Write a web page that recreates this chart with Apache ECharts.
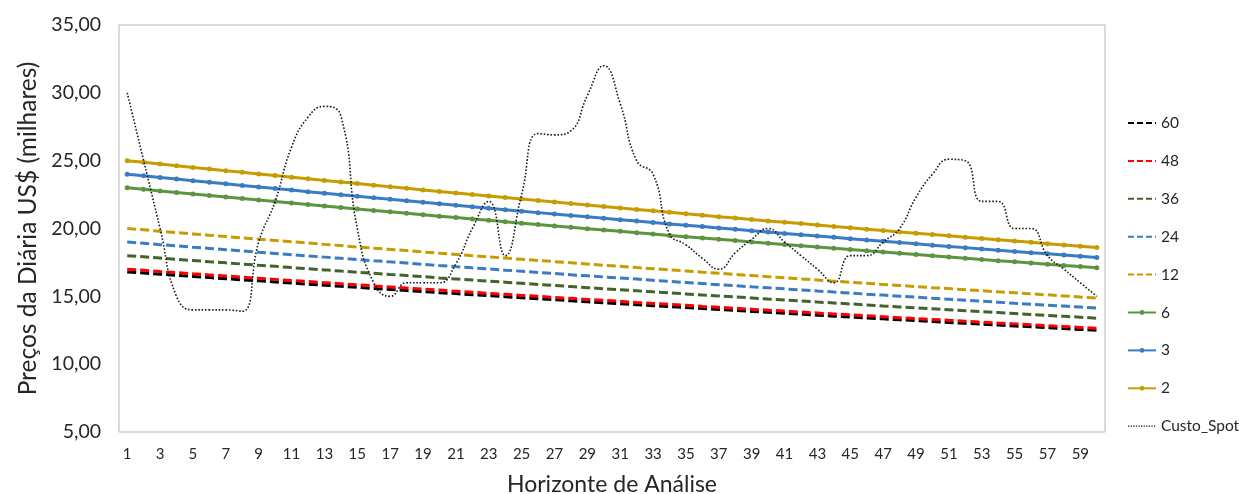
<!DOCTYPE html>
<html>
<head>
<meta charset="utf-8">
<script src="https://cdn.jsdelivr.net/npm/echarts@6/dist/echarts.min.js"></script>
<style>html,body{margin:0;padding:0;background:#fff}#c{width:1239px;height:494px}</style>
</head>
<body>
<div id="c"></div>
<script>
var categories = ['1','2','3','4','5','6','7','8','9','10','11','12','13','14','15','16','17','18','19','20','21','22','23','24','25','26','27','28','29','30','31','32','33','34','35','36','37','38','39','40','41','42','43','44','45','46','47','48','49','50','51','52','53','54','55','56','57','58','59','60'];

var s60 = [16.80,16.72,16.63,16.55,16.47,16.38,16.30,16.22,16.14,16.06,15.98,15.90,15.82,15.74,15.66,15.58,15.51,15.43,15.35,15.27,15.20,15.12,15.05,14.97,14.90,14.82,14.75,14.67,14.60,14.53,14.45,14.38,14.31,14.24,14.17,14.10,14.03,13.96,13.89,13.82,13.75,13.68,13.61,13.54,13.47,13.41,13.34,13.27,13.21,13.14,13.08,13.01,12.95,12.88,12.82,12.75,12.69,12.62,12.56,12.50];
var s48 = [17.00,16.92,16.83,16.75,16.66,16.58,16.50,16.41,16.33,16.25,16.17,16.09,16.01,15.93,15.85,15.77,15.69,15.61,15.53,15.46,15.38,15.30,15.22,15.15,15.07,15.00,14.92,14.85,14.77,14.70,14.63,14.55,14.48,14.41,14.34,14.26,14.19,14.12,14.05,13.98,13.91,13.84,13.77,13.70,13.64,13.57,13.50,13.43,13.36,13.30,13.23,13.17,13.10,13.03,12.97,12.90,12.84,12.78,12.71,12.65];
var s36 = [18.00,17.91,17.82,17.73,17.64,17.55,17.47,17.38,17.29,17.21,17.12,17.03,16.95,16.86,16.78,16.70,16.61,16.53,16.45,16.36,16.28,16.20,16.12,16.04,15.96,15.88,15.80,15.72,15.64,15.56,15.49,15.41,15.33,15.26,15.18,15.10,15.03,14.95,14.88,14.80,14.73,14.66,14.58,14.51,14.44,14.37,14.29,14.22,14.15,14.08,14.01,13.94,13.87,13.80,13.73,13.66,13.59,13.53,13.46,13.39];
var s24 = [19.00,18.91,18.81,18.72,18.62,18.53,18.44,18.35,18.25,18.16,18.07,17.98,17.89,17.80,17.71,17.62,17.54,17.45,17.36,17.27,17.19,17.10,17.02,16.93,16.85,16.76,16.68,16.59,16.51,16.43,16.35,16.27,16.18,16.10,16.02,15.94,15.86,15.78,15.70,15.63,15.55,15.47,15.39,15.32,15.24,15.16,15.09,15.01,14.94,14.86,14.79,14.71,14.64,14.57,14.49,14.42,14.35,14.28,14.21,14.14];
var s12 = [20.00,19.90,19.80,19.70,19.60,19.50,19.41,19.31,19.21,19.12,19.02,18.93,18.83,18.74,18.64,18.55,18.46,18.37,18.27,18.18,18.09,18.00,17.91,17.82,17.73,17.64,17.56,17.47,17.38,17.29,17.21,17.12,17.04,16.95,16.87,16.78,16.70,16.61,16.53,16.45,16.37,16.28,16.20,16.12,16.04,15.96,15.88,15.80,15.72,15.64,15.57,15.49,15.41,15.33,15.26,15.18,15.11,15.03,14.95,14.88];
var s6 = [23.00,22.89,22.77,22.66,22.54,22.43,22.32,22.21,22.10,21.99,21.88,21.77,21.66,21.55,21.44,21.33,21.23,21.12,21.02,20.91,20.81,20.70,20.60,20.50,20.39,20.29,20.19,20.09,19.99,19.89,19.79,19.69,19.59,19.49,19.40,19.30,19.20,19.11,19.01,18.92,18.82,18.73,18.63,18.54,18.45,18.36,18.26,18.17,18.08,17.99,17.90,17.81,17.72,17.63,17.55,17.46,17.37,17.28,17.20,17.11];
var s3 = [24.00,23.88,23.76,23.64,23.52,23.41,23.29,23.17,23.06,22.94,22.83,22.71,22.60,22.49,22.37,22.26,22.15,22.04,21.93,21.82,21.71,21.60,21.49,21.39,21.28,21.17,21.07,20.96,20.86,20.75,20.65,20.55,20.44,20.34,20.24,20.14,20.04,19.94,19.84,19.74,19.64,19.54,19.44,19.35,19.25,19.15,19.06,18.96,18.87,18.77,18.68,18.59,18.49,18.40,18.31,18.22,18.13,18.04,17.95,17.86];
var s2 = [25.00,24.88,24.75,24.63,24.50,24.38,24.26,24.14,24.02,23.90,23.78,23.66,23.54,23.42,23.31,23.19,23.07,22.96,22.84,22.73,22.62,22.50,22.39,22.28,22.17,22.06,21.95,21.84,21.73,21.62,21.51,21.40,21.30,21.19,21.08,20.98,20.87,20.77,20.66,20.56,20.46,20.36,20.25,20.15,20.05,19.95,19.85,19.75,19.65,19.56,19.46,19.36,19.26,19.17,19.07,18.98,18.88,18.79,18.69,18.60];
var spot = [30,25,20,15,14,14,14,13.9,19,22,26,28.2,29,28.3,20,16,15,16,16,16,17.4,20,22,18,22.5,27,26.9,27.2,29.8,32,29.2,25,24,19.6,18.8,17.8,17,18.2,19.2,20,19,18,17,16,18,18,19,20,22.3,24,25.1,25,22,22,20,20,18,17,16,15];

var yTicks = {min: 5, max: 35, interval: 5};

var FONT = 'Lato';
var TXT = '#262626';
var GOLD = '#C69C00', BLUE = '#3A7CC3', GREEN = '#5B9540', DKGREEN = '#44622C';
var DASH = [9, 4];

function dashed(name, data, color) {
  return {name: name, type: 'line', data: data, symbol: 'none', showSymbol: false,
    lineStyle: {color: color, width: 3, type: DASH}, itemStyle: {color: color}, z: 2, silent: true};
}
function solid(name, data, color) {
  return {name: name, type: 'line', data: data, symbol: 'circle', symbolSize: 5, showSymbol: true,
    lineStyle: {color: color, width: 3}, itemStyle: {color: color}, z: 3, silent: true};
}

var chart = echarts.init(document.getElementById('c'), null, {renderer: 'canvas'});
chart.setOption({
  animation: false,
  backgroundColor: '#fff',
  grid: {left: 119, top: 25, width: 986, height: 407, show: true, borderColor: '#b5b5b5', borderWidth: 1,
    backgroundColor: 'transparent', containLabel: false, outerBoundsMode: 'none'},
  legend: {
    orient: 'vertical', left: 1127, top: 115, padding: 0, itemWidth: 28, itemHeight: 6, itemGap: 21.9,
    textStyle: {fontFamily: FONT, fontSize: 15.5, color: TXT, lineHeight: 16},
    data: [
      {name: '60', itemStyle: {opacity: 0}, lineStyle: {type: [6, 3]}},
      {name: '48', itemStyle: {opacity: 0}, lineStyle: {type: [6, 3]}},
      {name: '36', itemStyle: {opacity: 0}, lineStyle: {type: [6, 3]}},
      {name: '24', itemStyle: {opacity: 0}, lineStyle: {type: [6, 3]}},
      {name: '12', itemStyle: {opacity: 0}, lineStyle: {type: [6, 3]}},
      {name: '6'}, {name: '3'}, {name: '2'},
      {name: 'Custo_Spot', itemStyle: {opacity: 0}, lineStyle: {width: 1.3, type: [1.3, 1.3]}}
    ]
  },
  xAxis: {
    type: 'category', data: categories, boundaryGap: true,
    name: 'Horizonte de Análise', nameLocation: 'middle', nameGap: 41,
    nameTextStyle: {fontFamily: FONT, fontSize: 23, color: TXT},
    axisLine: {show: false}, axisTick: {show: false},
    axisLabel: {interval: 1, margin: 15, fontFamily: FONT, fontSize: 15, color: TXT},
    splitLine: {show: false}
  },
  yAxis: {
    type: 'value', min: yTicks.min, max: yTicks.max, interval: yTicks.interval,
    name: 'Preços da Diária US$ (milhares)', nameLocation: 'middle', nameGap: 76,
    nameTextStyle: {fontFamily: FONT, fontSize: 24.5, color: TXT},
    axisLine: {show: false}, axisTick: {show: false},
    axisLabel: {margin: 18, fontFamily: FONT, fontSize: 19.5, color: TXT,
      formatter: function (v) { return v.toFixed(2).replace('.', ','); }},
    splitLine: {show: false}
  },
  series: [
    dashed('60', s60, '#000000'),
    dashed('48', s48, '#FF0000'),
    dashed('36', s36, DKGREEN),
    dashed('24', s24, BLUE),
    dashed('12', s12, GOLD),
    solid('6', s6, GREEN),
    solid('3', s3, BLUE),
    solid('2', s2, GOLD),
    {name: 'Custo_Spot', type: 'line', data: spot, smooth: 0.5, symbol: 'none', showSymbol: false,
      lineStyle: {color: '#1a1a1a', width: 1.6, type: [1.6, 1.8]}, itemStyle: {color: '#1a1a1a'}, z: 4, silent: true}
  ]
});
</script>
</body>
</html>
